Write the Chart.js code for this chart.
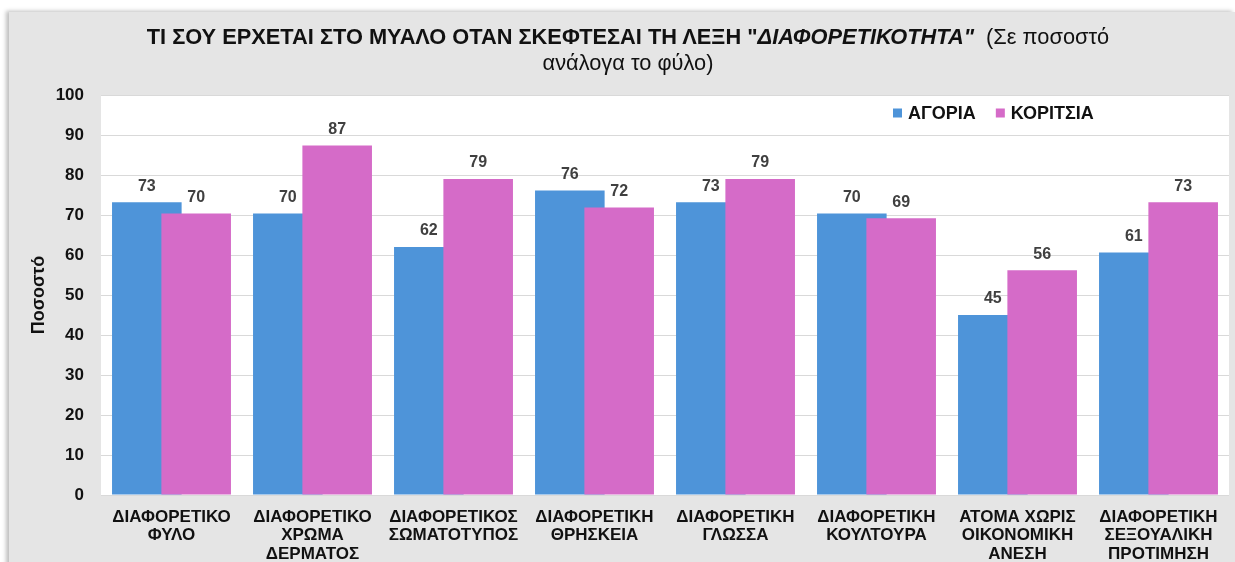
<!DOCTYPE html>
<html>
<head>
<meta charset="utf-8">
<script src="https://cdn.jsdelivr.net/npm/chart.js@4.4.1/dist/chart.umd.min.js"></script>
<style>
  html, body { margin:0; padding:0; background:#ffffff; width:1235px; height:562px; overflow:hidden; }
  #card { position:absolute; left:9px; top:12px; width:1226px; height:556px; background:#e5e5e5;
          box-shadow:-3px -1px 4px rgba(0,0,0,0.25); }
  #title { position:absolute; left:0; top:12px; width:1238px; text-align:center;
           font-family:'Liberation Sans', Arial, sans-serif; font-size:21.8px; line-height:26px; color:#111; }
  #title b { font-weight:bold; }
  #title .n { font-weight:normal; }
  canvas { position:absolute; left:0; top:0; }
</style>
</head>
<body>
<div id="card">
  <canvas id="c" width="1226" height="556"></canvas>
  <div id="title"><b>ΤΙ ΣΟΥ ΕΡΧΕΤΑΙ ΣΤΟ ΜΥΑΛΟ ΟΤΑΝ ΣΚΕΦΤΕΣΑΙ ΤΗ ΛΕΞΗ "<i>ΔΙΑΦΟΡΕΤΙΚΟΤΗΤΑ"</i></b> <span class="n">&nbsp;(Σε ποσοστό<br>ανάλογα το φύλο)</span></div>
</div>
<script>
const categories = [
  ['ΔΙΑΦΟΡΕΤΙΚΟ', 'ΦΥΛΟ'],
  ['ΔΙΑΦΟΡΕΤΙΚΟ', 'ΧΡΩΜΑ', 'ΔΕΡΜΑΤΟΣ'],
  ['ΔΙΑΦΟΡΕΤΙΚΟΣ', 'ΣΩΜΑΤΟΤΥΠΟΣ'],
  ['ΔΙΑΦΟΡΕΤΙΚΗ', 'ΘΡΗΣΚΕΙΑ'],
  ['ΔΙΑΦΟΡΕΤΙΚΗ', 'ΓΛΩΣΣΑ'],
  ['ΔΙΑΦΟΡΕΤΙΚΗ', 'ΚΟΥΛΤΟΥΡΑ'],
  ['ΑΤΟΜΑ ΧΩΡΙΣ', 'ΟΙΚΟΝΟΜΙΚΗ', 'ΑΝΕΣΗ'],
  ['ΔΙΑΦΟΡΕΤΙΚΗ', 'ΣΕΞΟΥΑΛΙΚΗ', 'ΠΡΟΤΙΜΗΣΗ']
];
const seriesNames = ['ΑΓΟΡΙΑ', 'ΚΟΡΙΤΣΙΑ'];
const boys  = [73.2, 70.4, 62.0, 76.1, 73.2, 70.4, 45.0, 60.6];
const girls = [70.4, 87.4, 79.0, 71.9, 79.0, 69.2, 56.2, 73.2];
const yTicks = [0, 10, 20, 30, 40, 50, 60, 70, 80, 90, 100];
const yTitle = 'Ποσοστό';

const FONT = "'Liberation Sans', Arial, sans-serif";
const BLUE = '#4e94d9';
const PINK = '#d56bc8';

const plotBg = {
  id: 'plotBg',
  beforeDraw(chart) {
    const {ctx, chartArea: a} = chart;
    ctx.save();
    ctx.fillStyle = '#ffffff';
    ctx.fillRect(a.left, a.top, a.right - a.left, a.bottom - a.top);
    ctx.restore();
  }
};

// draw datasets so that the second series (pink) sits on top of the first
const drawOrder = {
  id: 'drawOrder',
  beforeDatasetsDraw(chart) {
    const metas = chart.getSortedVisibleDatasetMetas();
    for (const m of metas) m.controller.draw();
    return false;
  }
};

const valueLabels = {
  id: 'valueLabels',
  afterDraw(chart) {
    const ctx = chart.ctx;
    ctx.save();
    ctx.font = 'bold 16px ' + FONT;
    ctx.fillStyle = '#404040';
    ctx.textAlign = 'center';
    ctx.textBaseline = 'middle';
    chart.data.datasets.forEach((ds, di) => {
      const meta = chart.getDatasetMeta(di);
      meta.data.forEach((el, i) => {
        ctx.fillText(String(Math.round(ds.data[i])), el.x, el.y - 16);
      });
    });
    ctx.restore();
  }
};

const customLegend = {
  id: 'customLegend',
  afterDraw(chart) {
    const {ctx, chartArea: a} = chart;
    ctx.save();
    ctx.font = 'bold 18px ' + FONT;
    ctx.textBaseline = 'middle';
    ctx.textAlign = 'left';
    let x = a.right - 336;
    const y = a.top + 18;
    chart.data.datasets.forEach((ds) => {
      ctx.fillStyle = ds.backgroundColor;
      ctx.fillRect(x, y - 4.5, 9, 9);
      x += 15;
      ctx.fillStyle = '#111111';
      ctx.fillText(ds.label, x, y + 1);
      x += ctx.measureText(ds.label).width + 20;
    });
    ctx.restore();
  }
};

new Chart(document.getElementById('c'), {
  type: 'bar',
  data: {
    labels: categories,
    datasets: [
      { label: seriesNames[0], data: boys, backgroundColor: BLUE, borderWidth: 0 },
      { label: seriesNames[1], data: girls, backgroundColor: PINK, borderWidth: 0 }
    ]
  },
  options: {
    responsive: false,
    animation: false,
    devicePixelRatio: 1,
    categoryPercentage: 0.7,
    barPercentage: 1.41,
    layout: { padding: { left: 15, right: 6, top: 83, bottom: 2 } },
    plugins: {
      legend: { display: false },
      title: { display: false },
      tooltip: { enabled: false }
    },
    scales: {
      x: {
        afterFit(scale) { scale.height = 71; },
        grid: { display: false, drawTicks: false },
        border: { display: false },
        ticks: {
          color: '#111111',
          padding: 13,
          maxRotation: 0,
          autoSkip: false,
          font: { family: FONT, size: 17, weight: 'bold', lineHeight: 1.09 }
        }
      },
      y: {
        min: 0, max: 100,
        afterFit(scale) { scale.width = 77; },
        afterBuildTicks(scale) { scale.ticks = yTicks.map(v => ({ value: v })); },
        grid: { color: '#d9d9d9', lineWidth: 1, drawTicks: false },
        border: { display: false },
        ticks: {
          color: '#111111',
          padding: 17,
          font: { family: FONT, size: 17, weight: 'bold' }
        },
        title: {
          display: true,
          text: yTitle,
          color: '#111111',
          padding: { top: 4, bottom: 10 },
          font: { family: FONT, size: 18, weight: 'bold' }
        }
      }
    }
  },
  plugins: [plotBg, drawOrder, valueLabels, customLegend]
});
</script>
</body>
</html>
